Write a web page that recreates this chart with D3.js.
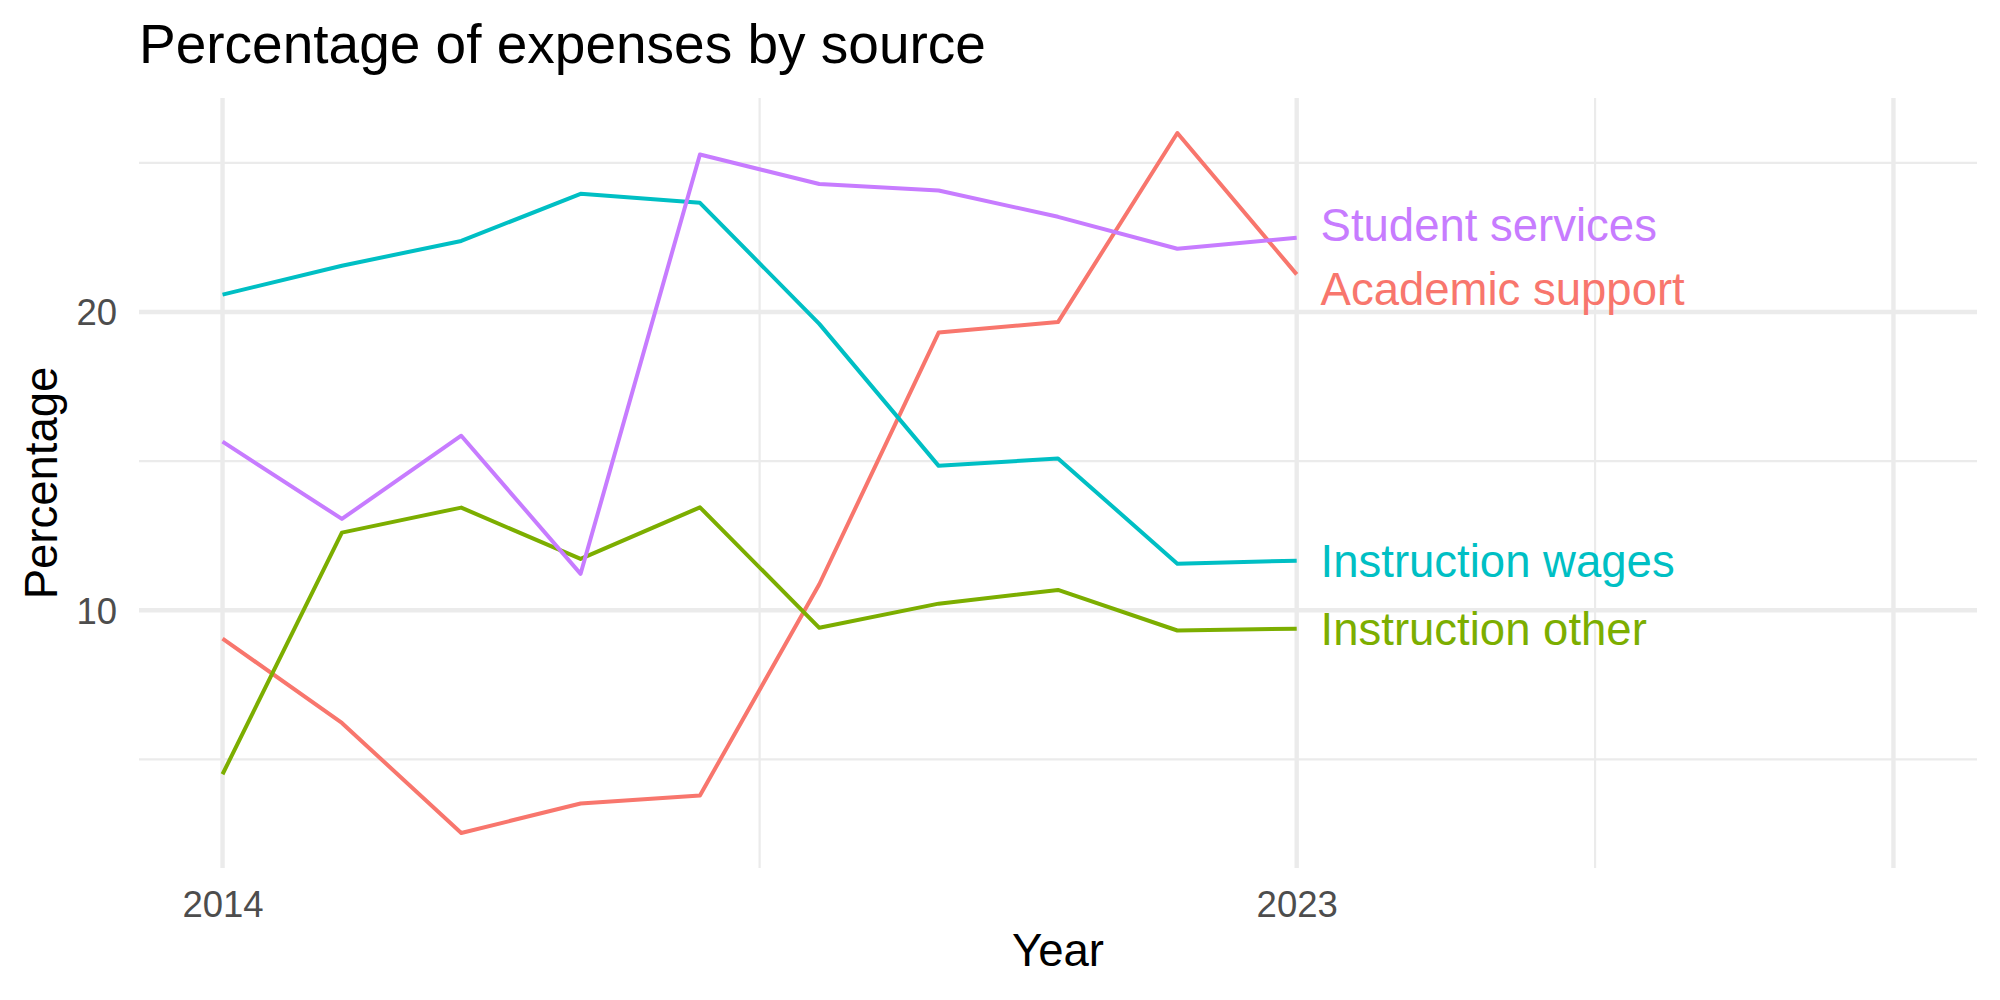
<!DOCTYPE html>
<html>
<head>
<meta charset="utf-8">
<script src="https://cdn.jsdelivr.net/npm/d3@7"></script>
<style>
  html, body { margin: 0; padding: 0; background: #fff; }
  svg text { font-family: "Liberation Sans", Arial, Helvetica, sans-serif; }
</style>
</head>
<body>
<div id="chart"></div>
<script>
(function() {
  'use strict';

  // data
  var years = [2014, 2015, 2016, 2017, 2018, 2019, 2020, 2021, 2022, 2023];
  var sources = ['Academic support', 'Instruction other', 'Instruction wages', 'Student services'];
  var academicSupport = [9.05, 6.22, 2.53, 3.52, 3.79, 10.87, 19.31, 19.66, 26.0, 21.26];
  var instructionOther = [4.5, 12.6, 13.44, 11.72, 13.45, 9.41, 10.22, 10.68, 9.32, 9.38];
  var instructionWages = [20.58, 21.55, 22.38, 23.96, 23.66, 19.6, 14.84, 15.09, 11.56, 11.66];
  var studentServices = [15.65, 13.06, 15.85, 11.22, 25.28, 24.29, 24.07, 23.19, 22.12, 22.49];
  // label heights (after being pushed apart), in percent
  var labelValues = [20.78, 9.36, 11.66, 22.90];
  var xBreaks = [2014, 2023, 2028];
  var xBreakLabels = ['2014', '2023', ''];
  var xMinorBreaks = [2018.5, 2025.5];
  var yBreaks = [10, 20];
  var yMinorBreaks = [5, 15, 25];
  var xLimits = [2014, 2028];

  var colors = ['#F8766D', '#7CAE00', '#00BFC4', '#C77CFF'];
  var seriesValues = [academicSupport, instructionOther, instructionWages, studentServices];

  var svgWidth = 2000,
    svgHeight = 1000,
    margin = {
      top: 98,
      right: 23,
      bottom: 132,
      left: 139
    },
    width = svgWidth - margin.left - margin.right,
    height = svgHeight - margin.top - margin.bottom;

  var series = sources.map(function(name, i) {
    return {
      name: name,
      color: colors[i],
      label: labelValues[i],
      values: years.map(function(y, j) {
        return { year: y, value: seriesValues[i][j] };
      })
    };
  });

  var allValues = d3.merge(seriesValues);
  var yExt = d3.extent(allValues);
  var yPad = (yExt[1] - yExt[0]) * 0.05;
  var xPad = (xLimits[1] - xLimits[0]) * 0.05;

  var x = d3.scaleLinear()
    .domain([xLimits[0] - xPad, xLimits[1] + xPad])
    .range([0, width]);

  var y = d3.scaleLinear()
    .domain([yExt[0] - yPad, yExt[1] + yPad])
    .range([height, 0]);

  var svg = d3.select('#chart')
    .append('svg')
    .attr('width', svgWidth)
    .attr('height', svgHeight);

  var g = svg.append('g')
    .attr('transform', 'translate(' + margin.left + ',' + margin.top + ')');

  var gridColor = '#EBEBEB';

  // minor grid
  g.selectAll('.y-minor')
    .data(yMinorBreaks)
    .enter().append('line')
    .attr('x1', 0).attr('x2', width)
    .attr('y1', y).attr('y2', y)
    .attr('stroke', gridColor)
    .attr('stroke-width', 2.2);

  g.selectAll('.x-minor')
    .data(xMinorBreaks)
    .enter().append('line')
    .attr('x1', x).attr('x2', x)
    .attr('y1', 0).attr('y2', height)
    .attr('stroke', gridColor)
    .attr('stroke-width', 2.2);

  // major grid
  g.selectAll('.y-major')
    .data(yBreaks)
    .enter().append('line')
    .attr('x1', 0).attr('x2', width)
    .attr('y1', y).attr('y2', y)
    .attr('stroke', gridColor)
    .attr('stroke-width', 4.4);

  g.selectAll('.x-major')
    .data(xBreaks)
    .enter().append('line')
    .attr('x1', x).attr('x2', x)
    .attr('y1', 0).attr('y2', height)
    .attr('stroke', gridColor)
    .attr('stroke-width', 4.4);

  // axes, no lines or ticks (theme_minimal)
  var xAxis = d3.axisBottom(x)
    .tickValues(xBreaks)
    .tickFormat(function(d, i) { return xBreakLabels[i]; })
    .tickSize(0)
    .tickPadding(0);

  var yAxis = d3.axisLeft(y)
    .tickValues(yBreaks)
    .tickFormat(d3.format('d'))
    .tickSize(0)
    .tickPadding(0);

  var xg = g.append('g')
    .attr('transform', 'translate(0,' + height + ')')
    .call(xAxis);
  xg.select('.domain').remove();
  xg.selectAll('text')
    .attr('dy', null)
    .attr('y', 49)
    .attr('fill', '#4D4D4D')
    .style('font-size', '36.5px');

  var yg = g.append('g').call(yAxis);
  yg.select('.domain').remove();
  yg.selectAll('text')
    .attr('dy', null)
    .attr('x', -22)
    .attr('y', 13)
    .attr('fill', '#4D4D4D')
    .style('font-size', '36.5px');

  // lines
  var line = d3.line()
    .x(function(d) { return x(d.year); })
    .y(function(d) { return y(d.value); });

  g.selectAll('.series')
    .data(series)
    .enter().append('path')
    .attr('d', function(d) { return line(d.values); })
    .attr('fill', 'none')
    .attr('stroke', function(d) { return d.color; })
    .attr('stroke-width', 4)
    .attr('stroke-linejoin', 'round');

  // end labels
  var lastYear = years[years.length - 1];
  g.selectAll('.end-label')
    .data(series)
    .enter().append('text')
    .attr('x', x(lastYear + 0.2))
    .attr('y', function(d) { return y(d.label) + 16; })
    .attr('fill', function(d) { return d.color; })
    .style('font-size', '45.5px')
    .text(function(d) { return d.name; });

  // titles
  svg.append('text')
    .attr('x', margin.left)
    .attr('y', 63)
    .attr('fill', '#000')
    .style('font-size', '55px')
    .text('Percentage of expenses by source');

  svg.append('text')
    .attr('x', margin.left + width / 2)
    .attr('y', 966)
    .attr('text-anchor', 'middle')
    .attr('fill', '#000')
    .style('font-size', '45.5px')
    .text('Year');

  svg.append('text')
    .attr('transform', 'translate(57,' + (margin.top + height / 2) + ') rotate(-90)')
    .attr('text-anchor', 'middle')
    .attr('fill', '#000')
    .style('font-size', '45.5px')
    .text('Percentage');
})();
</script>
</body>
</html>
